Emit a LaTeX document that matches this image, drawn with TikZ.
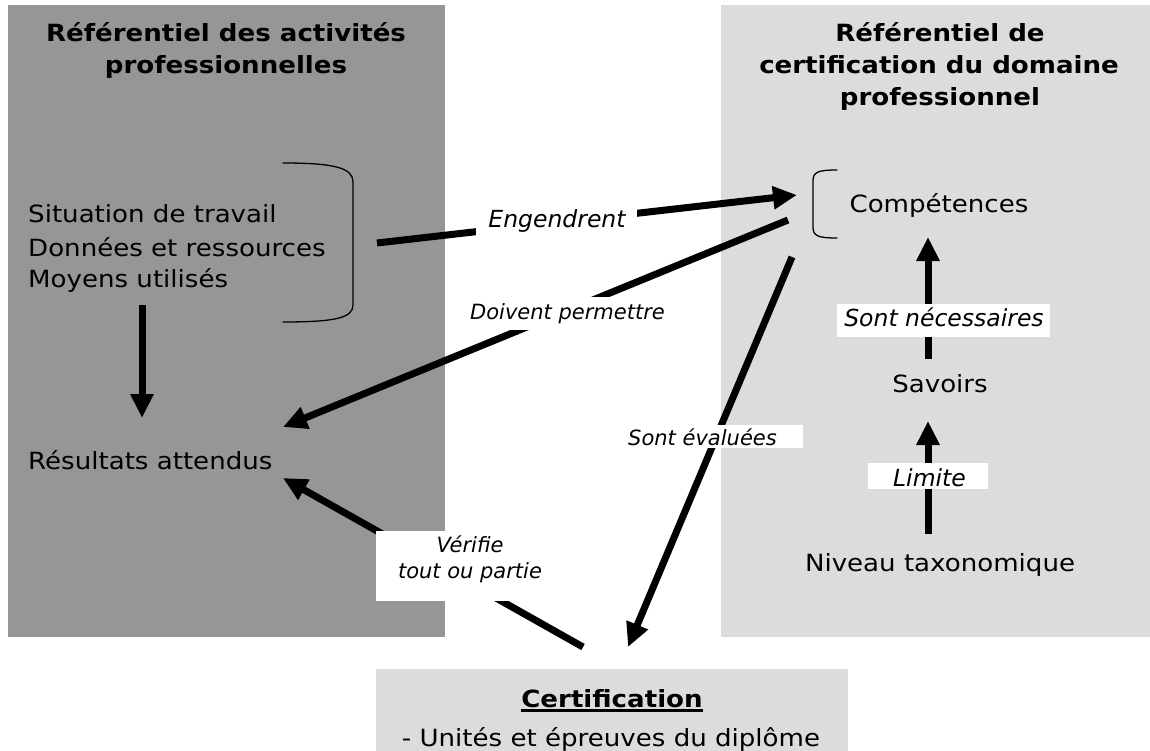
\documentclass[tikz,border=0pt]{standalone}
\usepackage{fontspec}
\setmainfont{DejaVu Sans}[FakeStretch=1.1]
\newfontfamily\labfont{DejaVu Sans}
\usetikzlibrary{arrows.meta}
\definecolor{darkbg}{RGB}{150,150,150}
\definecolor{lightbg}{RGB}{220,220,220}
\begin{document}
\begin{tikzpicture}[x=1pt,y=-1pt,
  txt/.style={inner sep=0pt, anchor=base, font=\fontsize{23.7}{30}\selectfont},
  ttl/.style={inner sep=0pt, anchor=base, font=\fontsize{23.7}{30}\selectfont\bfseries},
  lab/.style={inner sep=0pt, anchor=base, font=\labfont\itshape\fontsize{23.5}{28}\selectfont},
  labs/.style={inner sep=0pt, anchor=base, font=\labfont\itshape\fontsize{21}{26}\selectfont},
  arr/.style={line width=7pt, -{Triangle[length=24pt,width=22pt]}},
  brk/.style={line width=1.3pt, line cap=round},
]
\useasboundingbox (0,0) rectangle (1150,751);
\fill[white] (0,0) rectangle (1150,751);
% panels
\fill[darkbg] (8,5) rectangle (445,637);
\fill[lightbg] (721,5) rectangle (1150,637);
\fill[lightbg] (376,669) rectangle (848,751);

% titles
\node[ttl] (t1a) at (226,41.7) {Référentiel des activités};
\node[ttl] (t1b) at (226,73.3) {professionnelles};
\node[ttl] (t2a) at (940,42) {Référentiel de};
\node[ttl] (t2b) at (939,73.5) {certification du domaine};
\node[ttl] (t2c) at (940,106) {professionnel};

% left texts
\node[txt, anchor=base west] (sit) at (28,222.7) {Situation de travail};
\node[txt, anchor=base west] (don) at (28,256) {Données et ressources};
\node[txt, anchor=base west] (moy) at (28,287.3) {Moyens utilisés};
\node[txt, anchor=base west] (res) at (28,469) {Résultats attendus};

% right texts
\node[txt] (comp) at (939,213) {Compétences};
\node[txt] (sav) at (940,392) {Savoirs};
\node[txt] (niv) at (940,571.7) {Niveau taxonomique};

% certification
\node[ttl] (cert) at (612,707) {Certification};
\draw[line width=2.2pt] ([yshift=-3.5pt]cert.base west) -- ([yshift=-3.5pt]cert.base east);
\node[txt] (unit) at (611,746) {- Unités et épreuves du diplôme};

% brackets
\draw[brk] (283,163) .. controls (335,163) and (353,168) .. (353,182) -- (353,305)
  .. controls (353,318) and (335,322) .. (283,322);
\draw[brk] (837,170) .. controls (818,170) and (813,172) .. (813,181) -- (813,227)
  .. controls (813,236) and (818,238) .. (837,238);

% arrow end points
\coordinate (engS) at (377,243);
\coordinate (engE) at (797,195);
\coordinate (doiS) at (788,220);
\coordinate (doiE) at (283,427);
\coordinate (evaS) at (792,257);
\coordinate (evaE) at (628,647);
\coordinate (verS) at (583,647);
\coordinate (verE) at (283,478);
\coordinate (moyS) at (142,305);
\coordinate (resE) at (142,418);
\coordinate (savS) at (928,359);
\coordinate (compE) at (928,237);
\coordinate (nivS) at (928,534);
\coordinate (savE) at (928,421);

% arrows
\draw[arr] (engS) -- (engE);
\draw[arr] (doiS) -- (doiE);
\draw[arr] (evaS) -- (evaE);
\draw[arr] (verS) -- (verE);
\draw[arr] (moyS) -- (resE);
\draw[arr] (savS) -- (compE);
\draw[arr] (nivS) -- (savE);

% label boxes
\fill[white] (476,200) rectangle (637,240);
\fill[white] (465,297) rectangle (672,330);
\fill[white] (615,425) rectangle (803,448);
\fill[white] (376,531) rectangle (560,601);
\fill[white] (837,304) rectangle (1050,337);
\fill[white] (868,463) rectangle (988,489);

% labels
\node[lab] (lEng) at (557,227.7) {Engendrent};
\node[labs] (lDoi) at (567.5,319) {Doivent permettre};
\node[labs] (lEva) at (702.5,445) {Sont évaluées};
\node[labs] (lVer1) at (470,552.7) {Vérifie};
\node[labs] (lVer2) at (470,578) {tout ou partie};
\node[lab] (lNec) at (944,326.7) {Sont nécessaires};
\node[lab] (lLim) at (929.5,486.7) {Limite};
\end{tikzpicture}
\end{document}
